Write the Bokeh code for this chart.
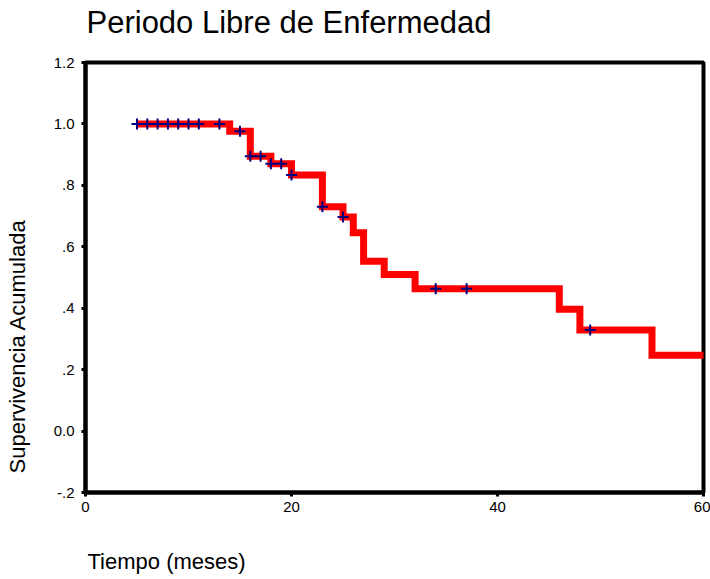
from bokeh.plotting import figure
from bokeh.models import FixedTicker, Title, LinearAxis
from bokeh.embed import file_html
from bokeh.resources import INLINE

# Kaplan-Meier step data (months, cumulative survival)
event_times = [5, 14, 16, 18, 20, 23, 25, 26, 27, 29, 32, 46, 48, 55, 61]
survival = [1.0, 0.976, 0.895, 0.870, 0.834, 0.730, 0.697, 0.646, 0.553, 0.510, 0.463, 0.397, 0.329, 0.247, 0.247]
censor_times = [5, 6, 7, 8, 9, 10, 11, 13, 15, 16, 17, 18, 19, 20, 23, 25, 34, 37, 49]

x_ticks = [0, 20, 40, 60]
y_ticks = [-0.2, 0.0, 0.2, 0.4, 0.6, 0.8, 1.0, 1.2]
y_tick_labels = ["-.2", "0.0", ".2", ".4", ".6", ".8", "1.0", "1.2"]

title_text = "Periodo Libre de Enfermedad"
x_label = "Tiempo (meses)"
y_label = "Supervivencia Acumulada"


def surv_at(t):
    val = survival[0]
    for et, s in zip(event_times, survival):
        if et <= t:
            val = s
    return val


censor_surv = [surv_at(t) for t in censor_times]

FONT = "Liberation Sans"

p = figure(width=710, height=579, x_range=(0, 60), y_range=(-0.2, 1.2),
           output_backend="svg", toolbar_location=None,
           min_border_left=85, min_border_right=7, min_border_top=62, min_border_bottom=87)
p.title.text = ""

p.outline_line_color = "black"
p.outline_line_width = 4
p.xgrid.visible = False
p.ygrid.visible = False
p.background_fill_color = "white"
p.border_fill_color = "white"

for ax in (p.xaxis, p.yaxis):
    ax.axis_line_width = 4
    ax.axis_line_color = "black"
    ax.major_tick_line_width = 3
    ax.major_tick_line_color = "black"
    ax.major_tick_out = 4
    ax.major_tick_in = 0
    ax.minor_tick_out = 0
    ax.minor_tick_in = 0
    ax.major_label_text_font = FONT
    ax.major_label_text_font_size = "15px"
    ax.major_label_text_color = "black"

p.xaxis.ticker = FixedTicker(ticks=x_ticks)
p.yaxis.ticker = FixedTicker(ticks=y_ticks)
p.yaxis.major_label_overrides = {v: l for v, l in zip(y_ticks, y_tick_labels)}
p.xaxis.major_label_standoff = 5
p.yaxis.major_label_standoff = 7


def spacer(size, tick):
    # blank axis (undrawn tick, empty label) used only to reserve room in a side panel
    return LinearAxis(ticker=FixedTicker(ticks=[tick]), axis_line_color=None,
                      major_tick_line_color="white", major_tick_line_width=1,
                      major_tick_line_dash="0 1000",
                      minor_tick_line_color=None,
                      major_tick_out=size, major_tick_in=0, minor_tick_out=0, minor_tick_in=0,
                      major_label_standoff=0, major_label_overrides={tick: ""})


# above: spacer then title
p.add_layout(spacer(23, 30), "above")
p.add_layout(Title(text=title_text, align="left", text_font=FONT, text_font_size="31px",
                   text_font_style="normal", text_color="black", offset=1, standoff=0), "above")

# below: x axis, spacer, label
p.add_layout(spacer(32, 30), "below")
p.add_layout(Title(text=x_label, align="left", text_font=FONT, text_font_size="22px",
                   text_font_style="normal", text_color="black", offset=2, standoff=0), "below")

# left: y axis, spacer, label
p.add_layout(spacer(21, 0.5), "left")
p.add_layout(Title(text=y_label, align="left", text_font=FONT, text_font_size="22px",
                   text_font_style="normal", text_color="black", offset=19, standoff=0), "left")

p.step(event_times, survival, mode="after", line_color="#FF0000", line_width=7, line_join="miter")
p.scatter(censor_times, censor_surv, marker="cross", size=11, line_color="#000080", line_width=2)

open("out.html", "w").write(file_html(p, INLINE))
